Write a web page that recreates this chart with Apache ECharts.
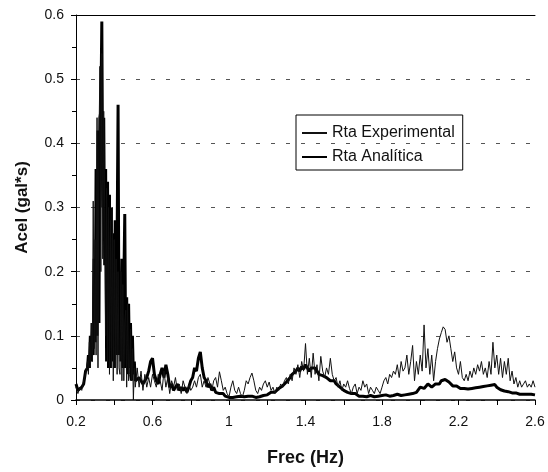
<!DOCTYPE html>
<html>
<head>
<meta charset="utf-8">
<script src="https://cdn.jsdelivr.net/npm/echarts@6/dist/echarts.min.js"></script>
<style>
  html, body { margin: 0; padding: 0; background: #fff; }
  #chart { width: 548px; height: 472px; }
</style>
</head>
<body>
<div id="chart"></div>
<script>
// frecuencia (Hz)
const freq = [
  0.20, 0.21, 0.22, 0.23, 0.24, 0.25, 0.26, 0.265, 0.27, 0.275,
  0.28, 0.285, 0.29, 0.295, 0.30, 0.305, 0.31, 0.315, 0.32, 0.325,
  0.33, 0.335, 0.34, 0.345, 0.35, 0.355, 0.36, 0.365, 0.37, 0.375,
  0.38, 0.385, 0.39, 0.395, 0.40, 0.405, 0.41, 0.415, 0.42, 0.425,
  0.43, 0.435, 0.44, 0.445, 0.45, 0.455, 0.46, 0.465, 0.47, 0.475,
  0.48, 0.485, 0.49, 0.495, 0.50, 0.505, 0.51, 0.52, 0.53, 0.54, 0.55,
  0.56, 0.57, 0.58, 0.59, 0.60, 0.61, 0.62, 0.63, 0.64, 0.65,
  0.66, 0.67, 0.68, 0.69, 0.70, 0.71, 0.72, 0.73, 0.74, 0.75,
  0.76, 0.77, 0.78, 0.79, 0.80, 0.81, 0.82, 0.83, 0.84, 0.85,
  0.86, 0.87, 0.88, 0.89, 0.90, 0.91, 0.92, 0.93, 0.94, 0.95,
  0.96, 0.97, 0.98, 0.99, 1.00, 1.01, 1.02, 1.03, 1.04, 1.05,
  1.06, 1.07, 1.08, 1.09, 1.10, 1.11, 1.12, 1.13, 1.14, 1.15,
  1.16, 1.17, 1.18, 1.19, 1.20, 1.21, 1.22, 1.23, 1.24, 1.25,
  1.26, 1.27, 1.28, 1.29, 1.30, 1.31, 1.32, 1.33, 1.34, 1.35,
  1.36, 1.37, 1.38, 1.39, 1.40, 1.41, 1.42, 1.43, 1.44, 1.45,
  1.46, 1.47, 1.48, 1.49, 1.50, 1.51, 1.52, 1.53, 1.54, 1.55,
  1.56, 1.57, 1.58, 1.59, 1.60, 1.61, 1.62, 1.63, 1.64, 1.65,
  1.66, 1.67, 1.68, 1.69, 1.70, 1.71, 1.72, 1.73, 1.74, 1.75,
  1.76, 1.77, 1.78, 1.79, 1.80, 1.81, 1.82, 1.83, 1.84, 1.85,
  1.86, 1.87, 1.88, 1.89, 1.90, 1.91, 1.92, 1.93, 1.94, 1.95,
  1.96, 1.97, 1.98, 1.99, 2.00, 2.01, 2.02, 2.03, 2.04, 2.05,
  2.06, 2.07, 2.08, 2.09, 2.10, 2.11, 2.12, 2.13, 2.14, 2.15,
  2.16, 2.17, 2.18, 2.19, 2.20, 2.21, 2.22, 2.23, 2.24, 2.25,
  2.26, 2.27, 2.28, 2.29, 2.30, 2.31, 2.32, 2.33, 2.34, 2.35,
  2.36, 2.37, 2.38, 2.39, 2.40, 2.41, 2.42, 2.43, 2.44, 2.45,
  2.46, 2.47, 2.48, 2.49, 2.50, 2.51, 2.52, 2.53, 2.54, 2.55,
  2.56, 2.57, 2.58, 2.59, 2.60
];

// Rta Experimental (linea fina)
const experimental = [
  0.02, 0.01, 0.02, 0.015, 0.03, 0.04, 0.06, 0.04, 0.09, 0.05,
  0.12, 0.06, 0.31, 0.08, 0.25, 0.07, 0.44, 0.05, 0.40, 0.52,
  0.20, 0.54, 0.22, 0.45, 0.30, 0.10, 0.33, 0.06, 0.30, 0.04,
  0.28, 0.05, 0.30, 0.03, 0.25, 0.05, 0.22, 0.04, 0.20, 0.05,
  0.04, 0.20, 0.03, 0.18, 0.03, 0.12, 0.14, 0.02, 0.15, 0.03,
  0.04, 0.11, 0.03, 0.08, 0.00, 0.05, 0.02, 0.05, 0.02, 0.045, 0.015,
  0.04, 0.02, 0.035, 0.02, 0.04, 0.03, 0.02, 0.04, 0.03, 0.015,
  0.045, 0.02, 0.035, 0.01, 0.03, 0.02, 0.035, 0.015, 0.025, 0.01,
  0.03, 0.02, 0.01, 0.025, 0.015, 0.02, 0.03, 0.02, 0.035, 0.04,
  0.02, 0.03, 0.02, 0.035, 0.025, 0.015, 0.03, 0.035, 0.02, 0.044,
  0.03, 0.015, 0.02, 0.01, 0.005, 0.02, 0.03, 0.015, 0.01, 0.02,
  0.01, 0.005, 0.015, 0.03, 0.025, 0.035, 0.042, 0.03, 0.015, 0.01,
  0.02, 0.015, 0.025, 0.03, 0.02, 0.028, 0.015, 0.02, 0.01, 0.02,
  0.015, 0.025, 0.02, 0.03, 0.035, 0.025, 0.04, 0.03, 0.05, 0.04,
  0.055, 0.035, 0.06, 0.045, 0.088, 0.04, 0.065, 0.035, 0.073, 0.04,
  0.055, 0.03, 0.068, 0.045, 0.035, 0.05, 0.04, 0.065, 0.04, 0.03,
  0.035, 0.02, 0.03, 0.015, 0.025, 0.02, 0.03, 0.018, 0.01, 0.02,
  0.025, 0.01, 0.02, 0.015, 0.03, 0.02, 0.025, 0.01, 0.02, 0.015,
  0.01, 0.02, 0.015, 0.01, 0.02, 0.03, 0.035, 0.025, 0.04, 0.035,
  0.045, 0.04, 0.055, 0.035, 0.06, 0.045, 0.05, 0.07, 0.04, 0.06,
  0.085, 0.03, 0.06, 0.04, 0.07, 0.045, 0.117, 0.05, 0.08, 0.04,
  0.07, 0.03, 0.06, 0.08, 0.095, 0.105, 0.114, 0.11, 0.09, 0.10,
  0.08, 0.06, 0.075, 0.05, 0.04, 0.06, 0.035, 0.03, 0.04, 0.03,
  0.045, 0.035, 0.05, 0.04, 0.055, 0.045, 0.06, 0.04, 0.05, 0.035,
  0.06, 0.04, 0.09, 0.05, 0.07, 0.04, 0.065, 0.035, 0.06, 0.04,
  0.065, 0.03, 0.045, 0.025, 0.035, 0.02, 0.03, 0.02, 0.025, 0.03,
  0.02, 0.025, 0.02, 0.03, 0.02
];

// Rta Analítica (linea gruesa)
const analitica = [
  0.025, 0.015, 0.012, 0.02, 0.025, 0.045, 0.05, 0.07, 0.05, 0.10,
  0.06, 0.12, 0.07, 0.22, 0.09, 0.36, 0.10, 0.42, 0.12, 0.44,
  0.45, 0.59, 0.30, 0.44, 0.21, 0.36, 0.06, 0.34, 0.05, 0.32,
  0.05, 0.30, 0.06, 0.26, 0.05, 0.28, 0.07, 0.25, 0.46, 0.07,
  0.20, 0.06, 0.22, 0.05, 0.18, 0.29, 0.05, 0.16, 0.04, 0.15,
  0.05, 0.12, 0.03, 0.10, 0.04, 0.06, 0.03, 0.03, 0.035, 0.03, 0.025,
  0.03, 0.035, 0.045, 0.06, 0.065, 0.04, 0.03, 0.025, 0.04, 0.05,
  0.035, 0.055, 0.04, 0.02, 0.025, 0.015, 0.02, 0.025, 0.015, 0.02,
  0.015, 0.02, 0.012, 0.02, 0.03, 0.035, 0.05, 0.045, 0.065, 0.075,
  0.05, 0.035, 0.03, 0.02, 0.025, 0.015, 0.02, 0.012, 0.015, 0.01,
  0.008, 0.01, 0.006, 0.005, 0.004, 0.005, 0.004, 0.003, 0.005, 0.004,
  0.006, 0.004, 0.005, 0.004, 0.006, 0.005, 0.006, 0.005, 0.004, 0.006,
  0.005, 0.006, 0.007, 0.006, 0.008, 0.01, 0.012, 0.01, 0.012, 0.015,
  0.018, 0.02, 0.022, 0.025, 0.028, 0.03, 0.035, 0.04, 0.038, 0.045,
  0.05, 0.045, 0.052, 0.048, 0.055, 0.05, 0.045, 0.05, 0.048, 0.05,
  0.045, 0.04, 0.042, 0.038, 0.04, 0.035, 0.032, 0.03, 0.028, 0.03,
  0.025, 0.022, 0.02, 0.018, 0.015, 0.014, 0.012, 0.01, 0.01, 0.008,
  0.01, 0.007, 0.006, 0.008, 0.006, 0.007, 0.005, 0.006, 0.007, 0.006,
  0.005, 0.007, 0.006, 0.008, 0.007, 0.006, 0.008, 0.007, 0.006, 0.008,
  0.007, 0.008, 0.009, 0.008, 0.007, 0.009, 0.008, 0.007, 0.009, 0.008,
  0.01, 0.008, 0.012, 0.015, 0.02, 0.022, 0.018, 0.02, 0.025, 0.022,
  0.02, 0.022, 0.025, 0.028, 0.025, 0.03, 0.028, 0.032, 0.03, 0.028,
  0.025, 0.022, 0.02, 0.022, 0.02, 0.018, 0.016, 0.018, 0.015, 0.017,
  0.016, 0.018, 0.017, 0.019, 0.018, 0.02, 0.019, 0.021, 0.02, 0.022,
  0.021, 0.023, 0.022, 0.024, 0.02, 0.018, 0.016, 0.015, 0.014, 0.012,
  0.013, 0.012, 0.011, 0.01, 0.011, 0.01, 0.009, 0.01, 0.009, 0.01,
  0.009, 0.008, 0.009, 0.008, 0.008
];

const seriesNames = ['Rta Experimental', 'Rta Analítica'];

const font = 'Liberation Sans, Arial, sans-serif';

let chart = echarts.init(document.getElementById('chart'), null, { renderer: 'canvas' });

const pair = (ys) => freq.map((f, i) => [f, ys[i]]);

let option = {
  animation: false,
  backgroundColor: '#fff',
  textStyle: { fontFamily: font },
  grid: { left: 76, right: 13, top: 15, bottom: 72 },
  legend: {
    data: seriesNames,
    orient: 'vertical',
    left: 296,
    top: 115,
    padding: [10, 8, 5, 5],
    itemGap: 8,
    itemWidth: 25,
    itemHeight: 16,
    borderColor: '#000',
    borderWidth: 1,
    // solo la linea, sin el circulo
    itemStyle: { opacity: 0 },
    textStyle: { fontFamily: font, fontSize: 16, color: '#111' }
  },
  xAxis: [{
    type: 'value',
    min: 0.2,
    max: 2.6,
    interval: 0.2,
    name: 'Frec (Hz)',
    nameLocation: 'middle',
    nameGap: 49,
    nameTextStyle: { fontFamily: font, fontSize: 18, fontWeight: 'bold', color: '#111' },
    axisLine: { lineStyle: { color: '#000', width: 1.5 } },
    axisTick: { show: true, length: 5, lineStyle: { color: '#000' } },
    axisLabel: {
      margin: 15,
      fontSize: 14,
      color: '#111',
      showMinLabel: true,
      showMaxLabel: true,
      formatter: function (v) {
        let k = Math.round((v - 0.2) / 0.2);
        if (k % 2 !== 0) return '';
        return String(+v.toFixed(1));
      }
    },
    splitLine: { show: false }
  }, {
    // linea superior del area del grafico
    type: 'value',
    position: 'top',
    min: 0.2,
    max: 2.6,
    axisLine: { show: true, onZero: false, lineStyle: { color: '#000', width: 1 } },
    axisTick: { show: false },
    axisLabel: { show: false },
    splitLine: { show: false }
  }],
  yAxis: {
    type: 'value',
    min: 0,
    max: 0.6,
    interval: 0.1,
    name: 'Acel (gal*s)',
    nameLocation: 'middle',
    nameGap: 45,
    nameTextStyle: { fontFamily: font, fontSize: 17, fontWeight: 'bold', color: '#111' },
    axisLine: { show: true, lineStyle: { color: '#000', width: 1 } },
    axisTick: { show: true, length: 5, lineStyle: { color: '#000' } },
    minorTick: { show: true, splitNumber: 2, length: 4, lineStyle: { color: '#000' } },
    axisLabel: {
      margin: 12,
      fontSize: 14,
      color: '#111',
      formatter: function (v) { return v === 0 ? '0' : v.toFixed(1); }
    },
    splitLine: { show: true, lineStyle: { color: '#555', type: [4, 11], width: 1 } }
  },
  series: [{
    name: seriesNames[0],
    type: 'line',
    data: pair(experimental),
    symbol: 'none',
    lineStyle: { color: '#111', width: 1 },
    itemStyle: { color: '#111' },
    z: 3
  }, {
    name: seriesNames[1],
    type: 'line',
    data: pair(analitica),
    symbol: 'none',
    lineStyle: { color: '#000', width: 3 },
    itemStyle: { color: '#000' },
    z: 2
  }]
};

chart.setOption(option);
</script>
</body>
</html>
